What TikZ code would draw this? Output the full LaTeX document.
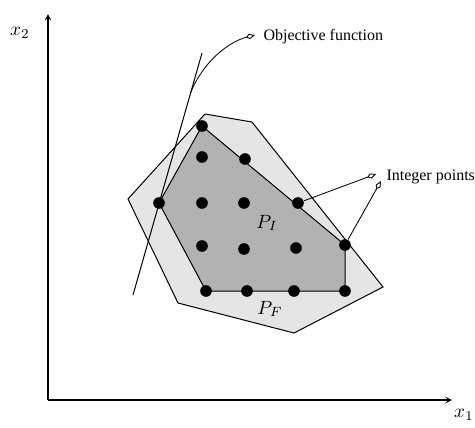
\documentclass[tikz,border=0pt]{standalone}
\usepackage{fontspec}
\newfontfamily\labelfont{Liberation Serif}
\usetikzlibrary{arrows.meta}

\tikzset{
  dot/.style={circle, fill=black, inner sep=0pt, minimum size=7pt},
  pointer/.style={-{Kite[open, length=5.5pt, width=3.2pt, inset=2pt]}, line width=0.5pt},
  label/.style={font=\labelfont\fontsize{9.6}{11}\selectfont, anchor=west, inner sep=0pt},
  mathlabel/.style={scale=1.15}
}

\begin{document}
\begin{tikzpicture}[x=0.6pt, y=-0.6pt, >=stealth, line width=0.6pt]
    \useasboundingbox (0,0) rectangle (475,427);

    % axes
    \coordinate (O) at (48,400);
    \coordinate (ytip) at (48,14);
    \coordinate (xtip) at (452,400);
    \draw[->, line width=0.7pt] (O) -- (ytip);
    \draw[->, line width=0.7pt] (O) -- (xtip);
    \node[mathlabel] (x2) at (20,33) {$x_2$};
    \node[mathlabel] (x1) at (464,415) {$x_1$};

    % P_F
    \filldraw[fill=black!10] (128,199) -- (205,114) -- (252,122) -- (383,287)
        -- (294,333) -- (178,303) -- cycle;

    % integer points
    \foreach \n/\x/\y in {1/202/126, 2/202/157, 3/245/159, 4/159/203, 5/202/203,
        6/244/203, 7/298/203, 8/202/246, 9/244/249, 10/296/248, 11/345/245,
        12/206/291, 13/247/291, 14/294/291, 15/345/291}
        \coordinate (c\n) at (\x,\y);

    % P_I
    \filldraw[fill=black!30] (c1) -- (c4) -- (c12) -- (c15) -- (c11) -- cycle;
    \foreach \n in {1,...,15}
        \node[dot] (p\n) at (c\n) {};

    \node[mathlabel] (PI) at (267,223) {$P_I$};
    \node[mathlabel] (PF) at (270,309) {$P_F$};

    % objective function
    \coordinate (ob1) at (133,295);
    \coordinate (ob2) at (202,53);
    \coordinate (ob) at (190.5,93);
    \coordinate (objtip) at (255,35);
    \draw (ob1) -- (ob2);
    \node[label] (objlabel) at (263,37) {Objective function};
    \draw[pointer] (ob) .. controls (203,62) and (228,42) .. (objtip);

    % integer points
    \node[label] (intlabel) at (386,177) {Integer points};
    \coordinate (iptip1) at (376,174);
    \coordinate (iptip2) at (381,181);
    \draw[pointer] (p7) -- (iptip1);
    \draw[pointer] (p11) -- (iptip2);
\end{tikzpicture}
\end{document}
